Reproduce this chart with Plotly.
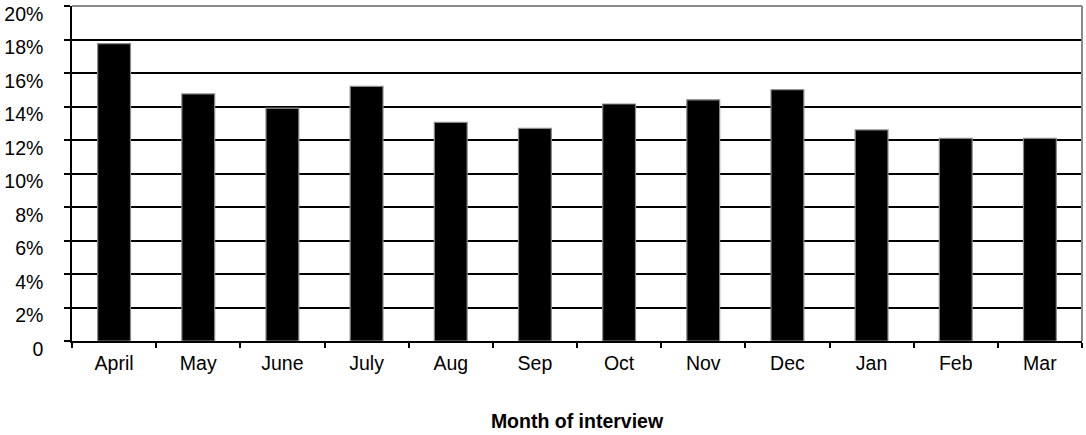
import plotly.graph_objects as go

months = ["April", "May", "June", "July", "Aug", "Sep", "Oct", "Nov", "Dec", "Jan", "Feb", "Mar"]
share_pct = [17.75, 14.75, 13.9, 15.2, 13.05, 12.7, 14.15, 14.4, 15.0, 12.6, 12.1, 12.1]
y_tick_values = [0, 2, 4, 6, 8, 10, 12, 14, 16, 18, 20]
y_tick_labels = ["0", "2%", "4%", "6%", "8%", "10%", "12%", "14%", "16%", "18%", "20%"]

font_family = "Liberation Sans, Arial, sans-serif"

fig = go.Figure()
fig.add_trace(go.Bar(
    x=months,
    y=share_pct,
    marker=dict(color="black", line=dict(color="#8a8a8a", width=1.2)),
    hoverinfo="x+y",
))

fig.update_layout(
    width=1086,
    height=435,
    margin=dict(l=72, r=4, t=6, b=94),
    paper_bgcolor="white",
    plot_bgcolor="white",
    bargap=0.61,
    showlegend=False,
    font=dict(family=font_family, size=19.5, color="black"),
    xaxis=dict(
        type="category",
        tickson="boundaries",
        ticks="outside",
        ticklen=5,
        tickwidth=1.5,
        tickcolor="black",
        showline=True,
        linecolor="black",
        linewidth=1.5,
        showgrid=False,
        tickfont=dict(size=19.5),
        ticklabelstandoff=4,
        title=dict(text="<b>Month of interview</b>", font=dict(size=19.5), standoff=41),
    ),
    yaxis=dict(
        range=[0, 20],
        tickvals=y_tick_values,
        ticktext=y_tick_labels,
        ticks="outside",
        ticklen=6,
        tickwidth=1.5,
        tickcolor="black",
        showline=True,
        linecolor="black",
        linewidth=1.5,
        showgrid=True,
        gridcolor="black",
        gridwidth=1.5,
        zeroline=False,
        tickfont=dict(size=19.5),
        ticklabelstandoff=17,
        ticklabelshift=8,
    ),
)

# grey frame along the top and right of the plot area
fig.add_shape(type="line", xref="x domain", yref="y domain", x0=0, x1=1, y0=1, y1=1,
              line=dict(color="#8a8a8a", width=2), layer="above")
fig.add_shape(type="line", xref="x domain", yref="y domain", x0=1, x1=1, y0=0, y1=1,
              line=dict(color="#8a8a8a", width=2), layer="above")

fig.write_html("out.html")
